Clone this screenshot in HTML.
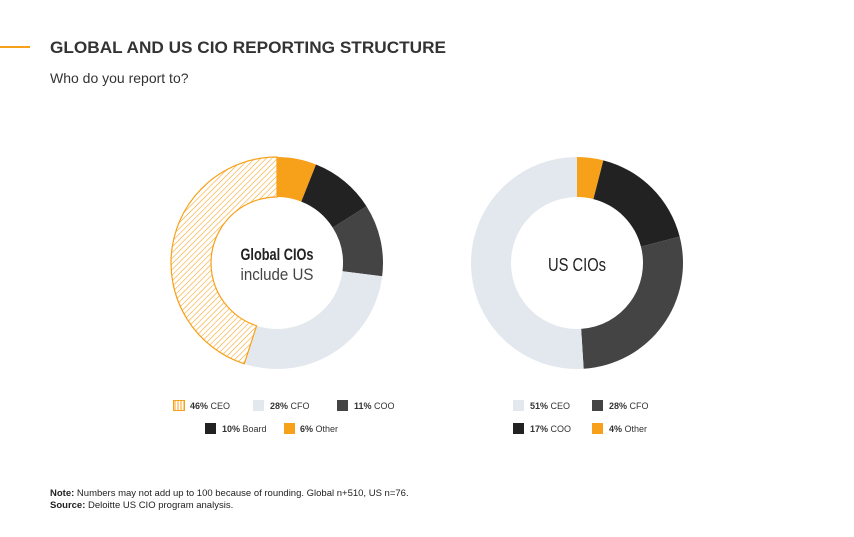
<!DOCTYPE html>
<html><head><meta charset="utf-8"><style>
html,body{margin:0;padding:0;background:#fff;}
svg{display:block;font-family:"Liberation Sans",sans-serif;}
</style></head><body>
<svg id="s" width="854" height="537" viewBox="0 0 854 537" xmlns="http://www.w3.org/2000/svg">
<defs>
<pattern id="h" width="4" height="4" patternUnits="userSpaceOnUse" patternTransform="rotate(45)">
<rect width="4" height="4" fill="#fff"/><line x1="0" y1="0" x2="0" y2="4" stroke="#f7a11a" stroke-width="1.1"/>
</pattern>
<pattern id="v" width="3" height="3" patternUnits="userSpaceOnUse">
<rect width="3" height="3" fill="#fff"/><line x1="1" y1="0" x2="1" y2="3" stroke="#f7a11a" stroke-width="1"/>
</pattern>
</defs>
<line x1="0" y1="47" x2="30" y2="47" stroke="#f7a11a" stroke-width="2"/>
<text x="50" y="53" font-size="17" font-weight="bold" fill="#333" textLength="396" lengthAdjust="spacingAndGlyphs">GLOBAL AND US CIO REPORTING STRUCTURE</text>
<text x="50" y="83" font-size="14" fill="#333">Who do you report to?</text>
<g id="d1"></g><g id="d2"></g>
<text x="277" y="260" font-size="17" fill="#222" text-anchor="middle" font-weight="bold" textLength="73" lengthAdjust="spacingAndGlyphs">Global CIOs</text>
<text x="277" y="280" font-size="17" fill="#444" text-anchor="middle" textLength="73" lengthAdjust="spacingAndGlyphs">include US</text>
<text x="577" y="271" font-size="18" fill="#222" text-anchor="middle" textLength="58" lengthAdjust="spacingAndGlyphs">US CIOs</text>
<g font-size="9" fill="#333">
<rect x="173.5" y="400.5" width="11" height="10" fill="url(#v)" stroke="#f7a11a"/>
<text x="190" y="409"><tspan font-weight="bold">46%</tspan> CEO</text>
<rect x="253" y="400" width="11" height="11" fill="#e3e8ee"/>
<text x="270" y="409"><tspan font-weight="bold">28%</tspan> CFO</text>
<rect x="337" y="400" width="11" height="11" fill="#444"/>
<text x="354" y="409"><tspan font-weight="bold">11%</tspan> COO</text>
<rect x="205" y="423" width="11" height="11" fill="#222"/>
<text x="222" y="432"><tspan font-weight="bold">10%</tspan> Board</text>
<rect x="284" y="423" width="11" height="11" fill="#f7a11a"/>
<text x="300" y="432"><tspan font-weight="bold">6%</tspan> Other</text>
<rect x="513" y="400" width="11" height="11" fill="#e3e8ee"/>
<text x="530" y="409"><tspan font-weight="bold">51%</tspan> CEO</text>
<rect x="592" y="400" width="11" height="11" fill="#444"/>
<text x="609" y="409"><tspan font-weight="bold">28%</tspan> CFO</text>
<rect x="513" y="423" width="11" height="11" fill="#222"/>
<text x="530" y="432"><tspan font-weight="bold">17%</tspan> COO</text>
<rect x="592" y="423" width="11" height="11" fill="#f7a11a"/>
<text x="609" y="432"><tspan font-weight="bold">4%</tspan> Other</text>
</g>
<g font-size="9.5" fill="#222">
<text x="50" y="496"><tspan font-weight="bold">Note:</tspan> Numbers may not add up to 100 because of rounding. Global n+510, US n=76.</text>
<text x="50" y="508"><tspan font-weight="bold">Source:</tspan> Deloitte US CIO program analysis.</text>
</g>
</svg>
<script>
function donut(id,cx,cy,R,r,segs){
 var g=document.getElementById(id),a=0,ns="http://www.w3.org/2000/svg";
 segs.forEach(function(s){
  var a0=a/100*2*Math.PI,a1=(a+s[0])/100*2*Math.PI;a+=s[0];
  function p(rr,t){return [cx+rr*Math.sin(t),cy-rr*Math.cos(t)];}
  var l=(a1-a0)>Math.PI?1:0,P1=p(R,a0),P2=p(R,a1),P3=p(r,a1),P4=p(r,a0);
  var d="M"+P1+"A"+R+","+R+" 0 "+l+" 1 "+P2+"L"+P3+"A"+r+","+r+" 0 "+l+" 0 "+P4+"Z";
  var e=document.createElementNS(ns,"path");e.setAttribute("d",d);e.setAttribute("fill",s[1]);
  if(s[2]){e.setAttribute("stroke",s[2]);e.setAttribute("stroke-width","1.2");}
  g.appendChild(e);
 });
}
donut("d1",277,263,106,66,[[6,"#f7a11a"],[10,"#222"],[11,"#444"],[28,"#e3e8ee"],[45,"url(#h)","#f7a11a"]]);
donut("d2",577,263,106,66,[[4,"#f7a11a"],[17,"#222"],[28,"#444"],[51,"#e3e8ee"]]);
</script>
</body></html>
